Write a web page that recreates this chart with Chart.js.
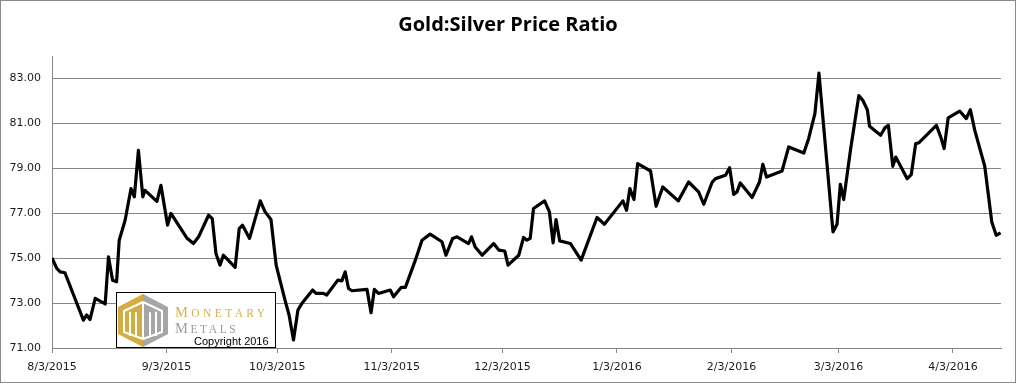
<!DOCTYPE html>
<html><head><meta charset="utf-8">
<script src="https://cdn.jsdelivr.net/npm/chart.js@4.4.1/dist/chart.umd.min.js"></script>
<style>html,body{margin:0;padding:0;background:#fff}#wrap{position:relative;width:1016px;height:383px}</style>
</head><body><div id="wrap"><canvas id="c" width="1016" height="383"></canvas></div>
<script>
const titleText = 'Gold:Silver Price Ratio';
const axisStart = '8/3/2015';
const axisEnd = '4/16/2016';
const xTickLabels = ['8/3/2015','9/3/2015','10/3/2015','11/3/2015','12/3/2015','1/3/2016','2/3/2016','3/3/2016','4/3/2016'];
const yTicks = [71, 73, 75, 77, 79, 81, 83];
const yMin = 71, yMax = 84;
// days since 8/3/2015
const dayOffsets = [0,1.3,2.2,3.5,8.5,9.4,10.3,11.7,14.4,15.3,16.4,17.5,18.2,19.8,21.4,22.3,23.4,24.6,25.2,28.4,29.5,31.3,32.2,36.5,38.3,39.7,42.4,43.4,44.4,45.5,46.4,49.6,50.7,51.6,53.5,56.4,57.7,59.3,60.7,63.1,64.2,65.4,66.6,67.7,70.6,71.5,73.5,74.4,77.4,78.5,79.4,80.3,81.2,85.3,86.4,87.3,88.4,91.6,92.5,94.6,95.7,98.4,100.2,102.4,105.6,106.7,108.5,109.7,112.8,113.6,114.6,116.5,119.6,121.0,122.6,123.5,126.4,127.7,128.6,129.5,130.4,133.4,134.7,135.7,136.5,137.5,140.4,143.3,147.6,149.6,154.6,155.6,156.5,157.6,158.6,162.1,163.6,165.4,169.6,172.4,175.1,176.5,178.8,179.7,182.4,183.5,184.6,185.5,186.4,189.6,191.6,192.5,193.5,197.7,199.5,203.6,204.9,206.6,207.7,211.5,212.6,213.5,214.4,216.3,218.5,219.6,220.8,221.4,224.4,225.6,226.5,227.7,228.5,231.6,232.7,233.9,234.8,239.5,240.7,241.6,242.7,245.8,247.6,248.7,249.9,252.6,254.5,255.7,256.9];
const ratios = [75.01,74.54,74.39,74.35,72.24,72.47,72.27,73.21,72.96,75.06,74.02,73.95,75.80,76.69,78.10,77.73,79.80,77.73,78.02,77.53,78.24,76.47,76.99,75.90,75.65,75.95,76.91,76.76,75.21,74.69,75.13,74.59,76.32,76.47,75.88,77.55,77.06,76.72,74.69,73.13,72.47,71.36,72.69,72.99,73.58,73.43,73.43,73.36,74.02,73.99,74.39,73.65,73.55,73.61,72.57,73.61,73.43,73.58,73.28,73.70,73.70,74.91,75.80,76.07,75.73,75.13,75.88,75.95,75.65,75.95,75.50,75.13,75.65,75.36,75.32,74.69,75.13,75.92,75.80,75.88,77.21,77.55,77.06,75.68,76.72,75.77,75.65,74.91,76.81,76.51,77.55,77.13,78.10,77.61,79.21,78.88,77.31,78.17,77.55,78.39,77.95,77.40,78.39,78.54,78.69,79.03,77.84,77.95,78.35,77.70,78.39,79.18,78.61,78.88,79.95,79.68,80.32,81.43,83.24,76.17,76.51,78.29,77.61,79.88,82.24,82.02,81.61,80.87,80.47,80.81,80.91,79.09,79.50,78.54,78.72,80.10,80.14,80.91,80.39,79.88,81.25,81.55,81.21,81.61,80.69,79.09,76.61,76.02,76.12];

function dayOf(s){
  const p = s.split('/').map(Number);
  const b = axisStart.split('/').map(Number);
  return (Date.UTC(p[2], p[0]-1, p[1]) - Date.UTC(b[2], b[0]-1, b[1])) / 864e5;
}
const xTickDays = xTickLabels.map(dayOf);

const GRID = '#868686';
const TXT = '#1a1a1a';

const framePlugin = {
  id: 'frame',
  beforeDraw(chart){
    const c = chart.ctx;
    c.save();
    c.fillStyle = '#fff';
    c.fillRect(0, 0, chart.width, chart.height);
    // centred title across the whole canvas
    c.fillStyle = '#000';
    c.font = 'bold 20px "Open Sans", sans-serif';
    c.textAlign = 'center';
    c.textBaseline = 'middle';
    c.fillText(titleText, chart.width / 2, 25);
    c.restore();
  },
  afterDraw(chart){
    const c = chart.ctx;
    c.save();
    c.strokeStyle = '#8a8a8a';
    c.lineWidth = 1;
    c.strokeRect(0.5, 0.5, chart.width - 1, chart.height - 1);
    c.restore();
  }
};

const logoPlugin = {
  id: 'logo',
  afterDraw(chart){
    const a = chart.chartArea;
    const c = chart.ctx;
    const x0 = Math.round(a.left) + 64, w = 160, h = 56;
    const y0 = Math.round(a.bottom) - h;
    c.save();
    c.fillStyle = '#fff';
    c.fillRect(x0, y0, w, h);
    c.strokeStyle = '#000';
    c.lineWidth = 1;
    c.strokeRect(x0 + 0.5, y0 + 0.5, w - 1, h - 1);
    // hexagon emblem
    const cx = x0 + 27, top = y0 + 2, bot = y0 + 55, L = x0 + 2, R = x0 + 52, sT = y0 + 15, sB = y0 + 42;
    c.fillStyle = '#d3ad41';
    c.beginPath(); c.moveTo(cx, top); c.lineTo(L, sT); c.lineTo(L, sB); c.lineTo(cx, bot); c.closePath(); c.fill();
    c.fillStyle = '#a6a6a6';
    c.beginPath(); c.moveTo(cx, top); c.lineTo(R, sT); c.lineTo(R, sB); c.lineTo(cx, bot); c.closePath(); c.fill();
    c.strokeStyle = '#fff';
    c.lineWidth = 2;
    const i = 6;
    c.beginPath();
    c.moveTo(cx, top + i + 2); c.lineTo(L + i, sT + 4); c.lineTo(L + i, sB - 2); c.lineTo(cx, bot - i - 2);
    c.moveTo(cx, top + i + 2); c.lineTo(R - i, sT + 4); c.lineTo(R - i, sB - 2); c.lineTo(cx, bot - i - 2);
    [-13, -7, 7, 13].forEach(dx => { c.moveTo(cx + dx, sT + 6 - Math.abs(dx) * 0.1); c.lineTo(cx + dx, sB + 2); });
    c.moveTo(cx, top + i + 2); c.lineTo(cx, bot - i - 2);
    c.stroke();
    // words
    function smallCaps(word, x, base, big, small, col, sp){
      c.fillStyle = col;
      if ('letterSpacing' in c) c.letterSpacing = sp + 'px';
      c.font = big + 'px "Liberation Serif", "DejaVu Serif", serif';
      c.fillText(word[0], x, base);
      let xx = x + c.measureText(word[0]).width;
      c.font = small + 'px "Liberation Serif", "DejaVu Serif", serif';
      c.fillText(word.slice(1), xx, base);
      if ('letterSpacing' in c) c.letterSpacing = '0px';
    }
    c.textBaseline = 'alphabetic';
    c.textAlign = 'left';
    smallCaps('MONETARY', x0 + 59, y0 + 25, 14.5, 11.5, '#d6b24a', 3.4);
    smallCaps('METALS', x0 + 59, y0 + 40.5, 14.5, 11.5, '#9c9c9c', 2.6);
    c.fillStyle = '#000';
    c.font = '11px "Liberation Sans", Arial, sans-serif';
    c.fillText('Copyright 2016', x0 + 78, y0 + 53);
    c.restore();
  }
};

new Chart(document.getElementById('c'), {
  type: 'line',
  data: {
    datasets: [{
      data: dayOffsets.map((d, k) => ({ x: d, y: ratios[k] })),
      borderColor: '#000',
      borderWidth: 3.2,
      pointRadius: 0,
      tension: 0,
      fill: false,
      borderJoinStyle: 'round'
    }]
  },
  options: {
    responsive: false,
    animation: false,
    devicePixelRatio: 1,
    layout: { padding: { left: 0, right: 15, top: 56, bottom: 0 } },
    plugins: {
      legend: { display: false },
      tooltip: { enabled: false },
      title: { display: false }
    },
    scales: {
      x: {
        type: 'linear',
        min: 0,
        max: dayOf(axisEnd),
        afterBuildTicks: s => { s.ticks = xTickDays.map(v => ({ value: v })); },
        afterFit: s => { s.height = 35; },
        ticks: {
          autoSkip: false, maxRotation: 0, minRotation: 0, padding: 8,
          color: TXT, font: { family: '"DejaVu Sans", sans-serif', size: 11 },
          callback: v => { const k = xTickDays.indexOf(v); return k >= 0 ? xTickLabels[k] : ''; }
        },
        grid: { drawOnChartArea: false, drawTicks: true, tickLength: 5, color: GRID },
        border: { color: GRID }
      },
      y: {
        min: yMin, max: yMax,
        afterBuildTicks: s => { s.ticks = yTicks.map(v => ({ value: v })); },
        afterFit: s => { s.width = 52; },
        ticks: {
          padding: 11, color: TXT, font: { family: '"DejaVu Sans", sans-serif', size: 11 },
          callback: v => Number(v).toFixed(2)
        },
        grid: { color: GRID, drawTicks: false },
        border: { color: GRID }
      }
    }
  },
  plugins: [framePlugin, logoPlugin]
});
</script>
</body></html>
